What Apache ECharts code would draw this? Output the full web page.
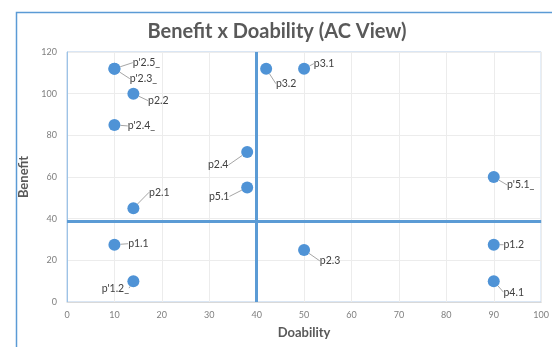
<!DOCTYPE html>
<html>
<head>
<meta charset="utf-8">
<script src="https://cdn.jsdelivr.net/npm/echarts@6/dist/echarts.min.js"></script>
<style>
  html, body { margin: 0; padding: 0; background: #ffffff; }
  #chart { width: 552px; height: 347px; }
</style>
</head>
<body>
<div id="chart"></div>
<script>
// Project items plotted by doability (x) and benefit (y)
const names = ["p'2.5_", "p'2.3_", "p2.2", "p'2.4_", "p2.4", "p3.2", "p3.1", "p'5.1_",
               "p2.1", "p5.1", "p1.1", "p'1.2_", "p2.3", "p1.2", "p4.1"];
const doability = [10, 10, 14, 10, 38, 42, 50, 90, 14, 38, 10, 14, 50, 90, 90];
const benefit   = [112, 112, 100, 85, 72, 112, 112, 60, 45, 55, 27.5, 10, 25, 27.5, 10];

// Quadrant dividers
const doabilityCut = 40;
const benefitCut = 39;

const xTicks = [0, 10, 20, 30, 40, 50, 60, 70, 80, 90, 100];
const yTicks = [0, 20, 40, 60, 80, 100, 120];

// Label offsets from each marker (pixels), same order as names
const labelShift = [
  [32, -6], [29, 10], [25, 7], [27, 1], [-29, 13], [20, 15], [20, -5], [27, 8],
  [26, -16], [-28, 9], [24, -1], [-18, 7], [26, 11], [20, 0], [20, 11]
];

const accent = '#4f93d6';
const font = 'Lato, "Open Sans", sans-serif';

const points = names.map((n, i) => ({ name: n, value: [doability[i], benefit[i]] }));

const chart = echarts.init(document.getElementById('chart'), null, { renderer: 'canvas' });
chart.setOption({
  animation: false,
  backgroundColor: '#ffffff',
  title: {
    text: 'Benefit x Doability (AC View)',
    left: 272, top: 17, textAlign: 'center',
    textStyle: { fontFamily: font, fontSize: 20, fontWeight: 'bold', color: '#595959' }
  },
  graphic: [{
    type: 'rect', left: 14, top: 10, z: -10,
    shape: { width: 600, height: 400 },
    style: { fill: 'none', stroke: '#5b9bd5', lineWidth: 1.5 }
  }],
  grid: {
    left: 67, right: 10, top: 52, bottom: 45,
    show: true, borderColor: '#b4cde9', borderWidth: 1
  },
  xAxis: {
    type: 'value', min: xTicks[0], max: xTicks[xTicks.length - 1], interval: 10,
    name: 'Doability', nameLocation: 'middle', nameGap: 24,
    nameTextStyle: { fontFamily: font, fontSize: 13, fontWeight: 'bold', color: '#595959' },
    axisLine: { show: true, lineStyle: { color: '#d9d9d9' } },
    axisTick: { show: false },
    axisLabel: { fontFamily: font, fontSize: 9, color: '#7f7f7f', margin: 9 },
    splitLine: { show: true, lineStyle: { color: '#ececec' } }
  },
  yAxis: {
    type: 'value', min: yTicks[0], max: yTicks[yTicks.length - 1], interval: 20,
    name: 'Benefit', nameLocation: 'middle', nameGap: 29, nameRotate: 90,
    nameTextStyle: { fontFamily: font, fontSize: 13, fontWeight: 'bold', color: '#595959' },
    axisLine: { show: true, lineStyle: { color: '#9dc3e6' } },
    axisTick: { show: false },
    axisLabel: { fontFamily: font, fontSize: 9, color: '#7f7f7f', margin: 10 },
    splitLine: { show: true, lineStyle: { color: '#ececec' } }
  },
  series: [{
    type: 'scatter',
    data: points,
    symbolSize: 12,
    itemStyle: { color: accent, opacity: 1 },
    z: 5,
    label: {
      show: true, position: 'inside',
      formatter: p => p.name,
      fontFamily: font, fontSize: 10.5, color: '#404040'
    },
    labelLine: { show: true, lineStyle: { color: '#a6a6a6', width: 1 } },
    labelLayout: p => ({ dx: labelShift[p.dataIndex][0], dy: labelShift[p.dataIndex][1] }),
    markLine: {
      silent: true, symbol: 'none', label: { show: false },
      lineStyle: { color: '#5b9bd5', width: 3, type: 'solid' },
      data: [{ xAxis: doabilityCut }, { yAxis: benefitCut }]
    }
  }]
});
</script>
</body>
</html>
